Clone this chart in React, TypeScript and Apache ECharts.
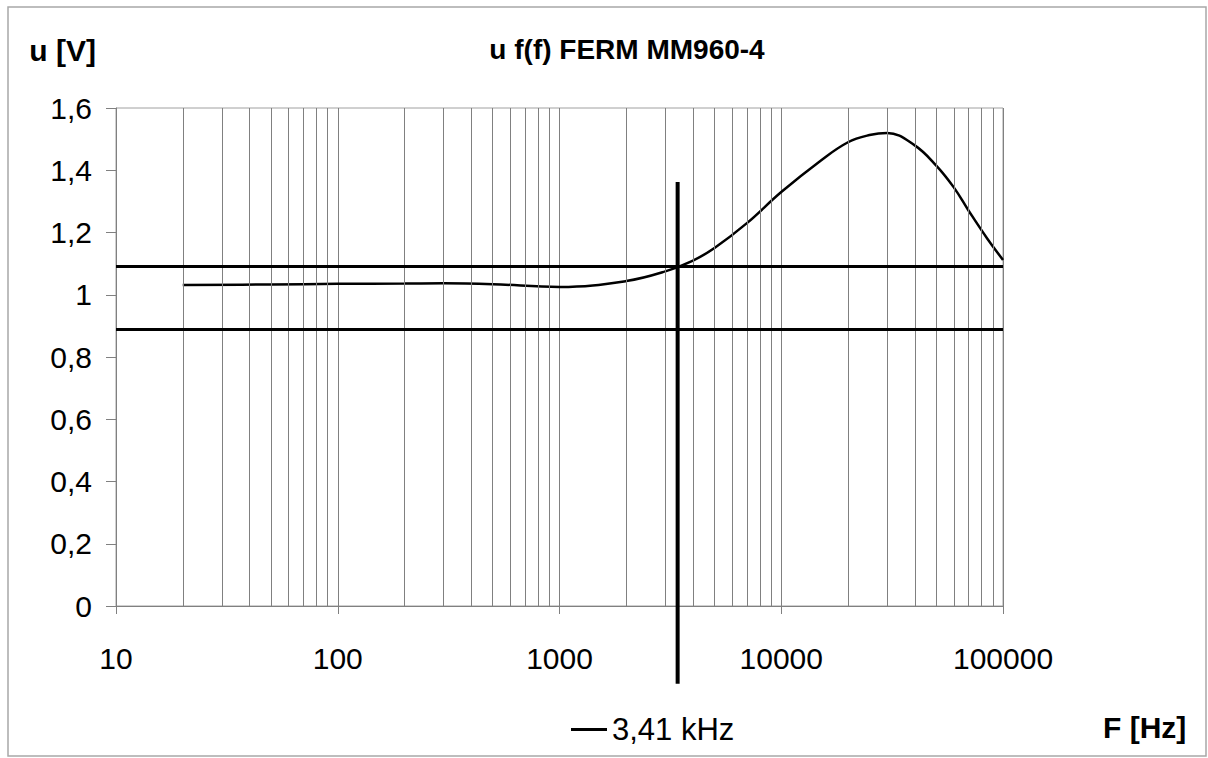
import React, { useEffect, useRef } from 'react';
import * as echarts from 'echarts';

// Measured response u = f(f)
const frequencies = [20, 50, 100, 200, 300, 500, 1000, 2000, 3000, 4000, 5000, 7000, 10000, 15000, 20000, 25000, 30000, 40000, 50000, 60000, 70000, 85000, 100000];
const voltages = [1.031, 1.033, 1.035, 1.036, 1.037, 1.034, 1.025, 1.044, 1.075, 1.11, 1.15, 1.23, 1.33, 1.43, 1.49, 1.513, 1.52, 1.48, 1.415, 1.345, 1.27, 1.18, 1.112];

// Reference (limit) levels
const upperLevel = 1.09;
const lowerLevel = 0.885;

// Cut-off marker
const markerLabel = '3,41 kHz';
const markerFreq = 3410;
const markerSpan = [1.362, -0.25];

// Axis setup
const xMin = 10;
const xMax = 100000;
const yMin = 0;
const yMax = 1.6;
const yStep = 0.2;
const decades = [10, 100, 1000, 10000];
const minorMultipliers = [2, 3, 4, 5, 6, 7, 8, 9];

const FONT = '"Liberation Sans", Arial, sans-serif';

export default function App() {
  const ref = useRef<HTMLDivElement>(null);

  useEffect(() => {
    if (!ref.current) return;
    const chart = echarts.init(ref.current, undefined, { renderer: 'svg' });

    const minorGrid: number[] = [];
    decades.forEach((d) => minorMultipliers.forEach((m) => minorGrid.push(m * d)));

    const option: any = {
      animation: false,
      backgroundColor: '#ffffff',
      textStyle: { fontFamily: FONT, color: '#000' },
      title: {
        text: 'u f(f) FERM MM960-4',
        left: 622,
        top: 30,
        textAlign: 'center',
        textStyle: { fontFamily: FONT, fontSize: 28, fontWeight: 'bold', color: '#000' },
      },
      legend: {
        data: [{ name: markerLabel, icon: 'rect' }],
        left: 566,
        top: 709,
        itemWidth: 36,
        itemHeight: 3,
        itemStyle: { color: '#000' },
        textStyle: { fontFamily: FONT, fontSize: 31, color: '#000' },
      },
      grid: {
        left: 116,
        top: 108,
        width: 887,
        height: 498,
        show: true,
        borderColor: '#a0a0a0',
        borderWidth: 1,
        backgroundColor: 'transparent',
      },
      xAxis: {
        type: 'log',
        logBase: 10,
        min: xMin,
        max: xMax,
        name: 'F [Hz]',
        nameLocation: 'end',
        nameGap: 100,
        nameTextStyle: {
          fontFamily: FONT,
          fontSize: 30,
          fontWeight: 'bold',
          color: '#000',
          verticalAlign: 'top',
          padding: [106, 0, 0, 0],
        },
        axisLine: { show: true, lineStyle: { color: '#808080', width: 1 } },
        axisTick: { show: true, length: 8, lineStyle: { color: '#808080' } },
        axisLabel: {
          fontFamily: FONT,
          fontSize: 30,
          color: '#000',
          margin: 37,
          formatter: (v: number) => String(Math.round(v)),
        },
        splitLine: { show: true, lineStyle: { color: '#808080', width: 1 } },
        minorTick: { show: false },
      },
      yAxis: {
        type: 'value',
        min: yMin,
        max: yMax,
        interval: yStep,
        name: 'u [V]',
        nameLocation: 'end',
        nameGap: 58,
        nameTextStyle: {
          fontFamily: FONT,
          fontSize: 30,
          fontWeight: 'bold',
          color: '#000',
          align: 'right',
          verticalAlign: 'middle',
          padding: [0, 20, 0, 0],
        },
        axisLine: { show: true, lineStyle: { color: '#808080', width: 1 } },
        axisTick: { show: true, length: 10, lineStyle: { color: '#808080' } },
        axisLabel: {
          fontFamily: FONT,
          fontSize: 30,
          color: '#000',
          margin: 24,
          formatter: (v: number) => String(Math.round(v * 10) / 10).replace('.', ','),
        },
        splitLine: { show: false },
      },
      graphic: [
        {
          type: 'rect',
          shape: { x: 8, y: 7, width: 1198, height: 749 },
          style: { fill: 'none', stroke: '#a8a8a8', lineWidth: 1.5 },
          silent: true,
          z: -1,
        },
      ],
      series: [
        {
          name: 'minor grid',
          type: 'line',
          data: [],
          silent: true,
          markLine: {
            silent: true,
            symbol: 'none',
            label: { show: false },
            lineStyle: { color: '#808080', width: 1, type: 'solid' },
            data: minorGrid.map((f) => ({ xAxis: f })),
          },
          z: 1,
        },
        {
          name: 'levels',
          type: 'line',
          data: [],
          silent: true,
          markLine: {
            silent: true,
            symbol: 'none',
            label: { show: false },
            lineStyle: { color: '#000', width: 3, type: 'solid' },
            data: [{ yAxis: upperLevel }, { yAxis: lowerLevel }],
          },
          z: 3,
        },
        {
          name: 'u',
          type: 'line',
          data: frequencies.map((f, i) => [f, voltages[i]]),
          smooth: 0.4,
          symbol: 'none',
          lineStyle: { color: '#000', width: 2.5 },
          z: 4,
        },
        {
          name: markerLabel,
          type: 'line',
          data: markerSpan.map((v) => [markerFreq, v]),
          symbol: 'none',
          clip: false,
          lineStyle: { color: '#000', width: 4 },
          itemStyle: { color: '#000' },
          z: 5,
        },
      ],
    };

    chart.setOption(option);
    return () => chart.dispose();
  }, []);

  return (
    <div
      ref={ref}
      style={{ position: 'fixed', left: 0, top: 0, width: 1208, height: 758, background: '#fff' }}
    />
  );
}
